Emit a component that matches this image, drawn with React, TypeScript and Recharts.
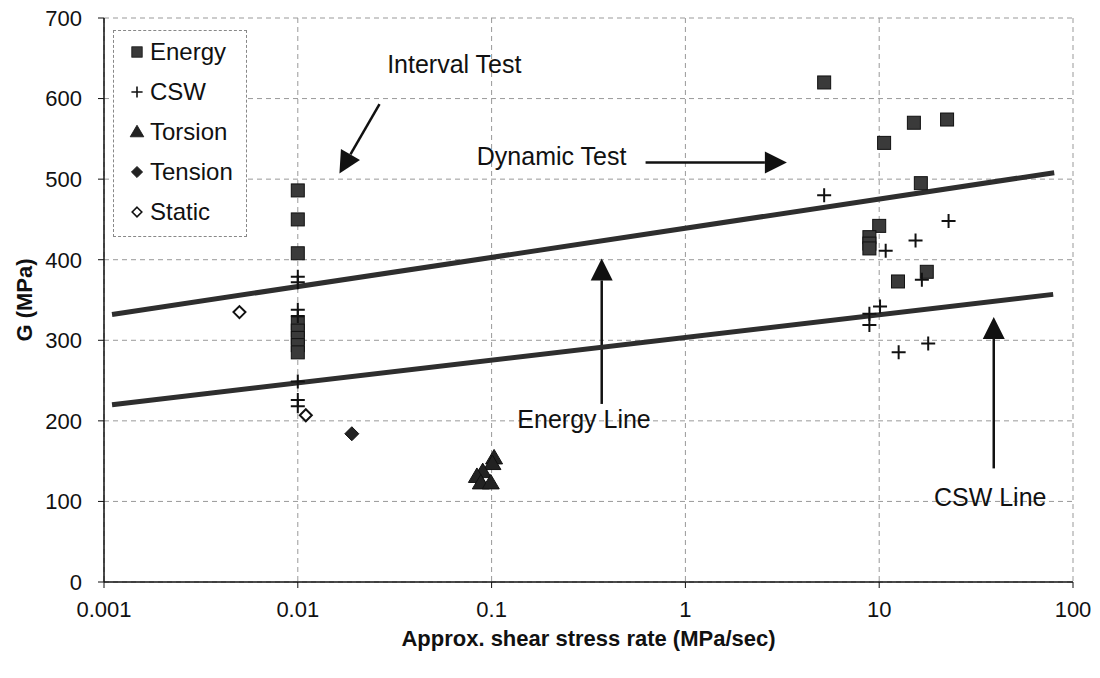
import {
  CartesianGrid,
  Legend,
  ReferenceDot,
  ReferenceLine,
  Scatter,
  ScatterChart,
  XAxis,
  YAxis,
} from 'recharts';

const FONT = '"Liberation Sans", Arial, sans-serif';

const X_TICKS = [0.001, 0.01, 0.1, 1, 10, 100];
const Y_TICKS = [0, 100, 200, 300, 400, 500, 600, 700];

// Energy
const energyRate = [0.01, 0.01, 0.01, 0.01, 0.01, 0.01, 0.01, 0.01, 5.2, 15.1, 22.4, 10.6, 16.4, 10.0, 8.9, 8.9, 8.9, 17.6, 12.5];
const energyG = [486, 450, 408, 321, 312, 303, 294, 285, 620, 570, 574, 545, 495, 442, 428, 420, 414, 385, 373];

// CSW
const cswRate = [0.01, 0.01, 0.01, 0.01, 0.01, 0.01, 0.01, 5.2, 22.8, 15.4, 10.8, 16.6, 10.1, 8.9, 8.9, 12.6, 17.9];
const cswG = [379, 372, 338, 330, 249, 226, 218, 480, 448, 424, 411, 375, 342, 333, 319, 285, 296];

// Torsion
const torsionRate = [0.103, 0.101, 0.09, 0.084, 0.088, 0.099];
const torsionG = [154, 147, 137, 131, 123, 123];

// Tension
const tensionRate = [0.019];
const tensionG = [184];

// Static
const staticRate = [0.005, 0.011];
const staticG = [335, 207];

// fitted lines (two ends each)
const energyLineRate = [0.0011, 80];
const energyLineG = [332, 508];
const cswLineRate = [0.0011, 79];
const cswLineG = [220, 357];

// annotation arrows: tail -> tip
const arrowTail = [
  [0.0264, 593],
  [0.623, 520.7],
  [0.37, 221],
  [39, 141],
];
const arrowTip = [
  [0.0164, 507],
  [3.34, 520.7],
  [0.37, 401.6],
  [39, 329],
];

// annotation texts (centre x, baseline y)
const noteText = ['Interval Test', 'Dynamic Test', 'Energy Line', 'CSW Line'];
const noteRate = [0.0642, 0.204, 0.3, 37.4];
const noteG = [631.5, 517.4, 190.6, 94.3];

const pts = (xs: number[], ys: number[]) => xs.map((x, i) => ({ x, y: ys[i] }));

const energyData = pts(energyRate, energyG);
const cswData = pts(cswRate, cswG);
const torsionData = pts(torsionRate, torsionG);
const tensionData = pts(tensionRate, tensionG);
const staticData = pts(staticRate, staticG);
const energyLine = pts(energyLineRate, energyLineG);
const cswLine = pts(cswLineRate, cswLineG);

const INK = '#111';

function SquareMark({ cx, cy }: any) {
  return <rect x={cx - 6.5} y={cy - 6.5} width={13} height={13} fill="#3a3a3a" stroke={INK} strokeWidth={1} />;
}
function CrossMark({ cx, cy }: any) {
  return (
    <path d={`M${cx - 7},${cy}H${cx + 7}M${cx},${cy - 7}V${cy + 7}`} stroke={INK} strokeWidth={2} fill="none" />
  );
}
function TriangleMark({ cx, cy }: any) {
  return <polygon points={`${cx},${cy - 8.5} ${cx - 8.5},${cy + 6} ${cx + 8.5},${cy + 6}`} fill="#222" stroke={INK} />;
}
function DiamondMark({ cx, cy }: any) {
  return <polygon points={`${cx},${cy - 7} ${cx + 7},${cy} ${cx},${cy + 7} ${cx - 7},${cy}`} fill="#222" stroke={INK} />;
}
function OpenDiamondMark({ cx, cy }: any) {
  return (
    <polygon points={`${cx},${cy - 6} ${cx + 6},${cy} ${cx},${cy + 6} ${cx - 6},${cy}`} fill="#fff" stroke={INK} strokeWidth={2} />
  );
}
const NoMark = () => <g />;

function Arrow(props: any) {
  const { x1, y1, x2, y2 } = props;
  const dx = x2 - x1;
  const dy = y2 - y1;
  const len = Math.hypot(dx, dy) || 1;
  const ux = dx / len;
  const uy = dy / len;
  const L = 22;
  const W = 11;
  const bx = x2 - ux * L;
  const by = y2 - uy * L;
  return (
    <g>
      <line x1={x1} y1={y1} x2={bx} y2={by} stroke={INK} strokeWidth={2.5} />
      <polygon
        points={`${x2},${y2} ${bx - uy * W},${by + ux * W} ${bx + uy * W},${by - ux * W}`}
        fill={INK}
      />
    </g>
  );
}

const legendItems = [
  { name: 'Energy', Mark: SquareMark },
  { name: 'CSW', Mark: CrossMark },
  { name: 'Torsion', Mark: TriangleMark },
  { name: 'Tension', Mark: DiamondMark },
  { name: 'Static', Mark: OpenDiamondMark },
];

function LegendBox() {
  return (
    <div
      style={{
        width: 134,
        height: 207,
        boxSizing: 'border-box',
        border: '1px dashed #888',
        background: '#fff',
        paddingTop: 1,
        fontFamily: FONT,
        fontSize: 24,
        color: INK,
      }}
    >
      {legendItems.map(({ name, Mark }) => (
        <div key={name} style={{ height: 40, display: 'flex', alignItems: 'center' }}>
          <svg width={36} height={20} style={{ flex: 'none' }}>
            <g transform="scale(0.8)" style={{ transformOrigin: '23px 10px' }}>
              <Mark cx={23} cy={10} />
            </g>
          </svg>
          <span style={{ lineHeight: '24px' }}>{name}</span>
        </div>
      ))}
    </div>
  );
}

function YTitle(props: any) {
  const vb = props.viewBox;
  const cx = 24;
  const cy = vb.y + vb.height / 2;
  return (
    <text
      x={cx}
      y={cy}
      transform={`rotate(-90 ${cx} ${cy})`}
      textAnchor="middle"
      dominantBaseline="central"
      fontFamily={FONT}
      fontSize={22}
      fontWeight="bold"
      fill={INK}
    >
      G (MPa)
    </text>
  );
}

function XTitle(props: any) {
  const vb = props.viewBox;
  return (
    <text
      x={vb.x + vb.width / 2}
      y={638}
      textAnchor="middle"
      dominantBaseline="central"
      fontFamily={FONT}
      fontSize={22}
      fontWeight="bold"
      fill={INK}
    >
      Approx. shear stress rate (MPa/sec)
    </text>
  );
}

const tickStyle = { fill: INK, fontSize: 22, fontFamily: FONT };

export default function App() {
  return (
    <div style={{ position: 'absolute', left: 0, top: 0, background: '#fff' }}>
      <ScatterChart width={1100} height={678} margin={{ top: 18, right: 27, bottom: 0, left: 0 }}>
        <CartesianGrid stroke="#999" strokeDasharray="5 4" />
        <XAxis
          type="number"
          dataKey="x"
          scale="log"
          domain={[0.001, 100]}
          ticks={X_TICKS}
          tickFormatter={(v: number) => String(v)}
          allowDataOverflow
          height={96}
          tick={tickStyle}
          tickSize={6}
          tickMargin={13}
          axisLine={{ stroke: INK, strokeWidth: 1.5 }}
          tickLine={{ stroke: INK }}
          label={{ content: XTitle }}
        />
        <YAxis
          type="number"
          dataKey="y"
          domain={[0, 700]}
          ticks={Y_TICKS}
          width={104}
          tick={tickStyle}
          tickSize={6}
          tickMargin={16}
          axisLine={{ stroke: INK, strokeWidth: 1.5 }}
          tickLine={{ stroke: INK }}
          label={{ content: YTitle }}
        />
        <Scatter data={energyLine} line={{ stroke: '#2e2e2e', strokeWidth: 5 }} shape={NoMark} isAnimationActive={false} />
        <Scatter data={cswLine} line={{ stroke: '#2e2e2e', strokeWidth: 5 }} shape={NoMark} isAnimationActive={false} />
        <Scatter name="Energy" data={energyData} shape={SquareMark} isAnimationActive={false} />
        <Scatter name="CSW" data={cswData} shape={CrossMark} isAnimationActive={false} />
        <Scatter name="Torsion" data={torsionData} shape={TriangleMark} isAnimationActive={false} />
        <Scatter name="Tension" data={tensionData} shape={DiamondMark} isAnimationActive={false} />
        <Scatter name="Static" data={staticData} shape={OpenDiamondMark} isAnimationActive={false} />
        {arrowTail.map((t, i) => (
          <ReferenceLine
            key={`arrow-${i}`}
            segment={[
              { x: t[0], y: t[1] },
              { x: arrowTip[i][0], y: arrowTip[i][1] },
            ]}
            shape={Arrow}
          />
        ))}
        {noteText.map((txt, i) => (
          <ReferenceDot
            key={txt}
            x={noteRate[i]}
            y={noteG[i]}
            r={0}
            shape={(p: any) => (
              <text x={p.cx} y={p.cy} textAnchor="middle" fontFamily={FONT} fontSize={25} fill={INK}>
                {txt}
              </text>
            )}
          />
        ))}
        <Legend
          layout="horizontal"
          verticalAlign="middle"
          align="center"
          wrapperStyle={{ left: 113, top: 30, width: 134, height: 207 }}
          content={() => <LegendBox />}
        />
      </ScatterChart>
    </div>
  );
}
